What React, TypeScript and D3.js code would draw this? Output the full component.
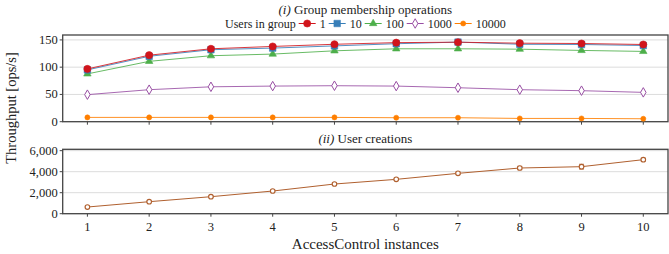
import React, { useEffect, useRef } from "react";
import * as d3 from "d3";

// x categories
const instances = [1, 2, 3, 4, 5, 6, 7, 8, 9, 10];

// (i) group membership throughput, one array per group size
const users1 = [96.8, 122, 133.7, 138, 142, 145, 145.8, 144, 143.4, 141.6];
const users10 = [95, 120, 132, 135, 139, 143, 146, 142, 141.6, 139.7];
const users100 = [87.7, 110.7, 121, 124, 130, 133.7, 133.7, 133, 130.7, 128.9];
const users1000 = [49.6, 58.7, 64, 65.3, 66, 65.3, 62.3, 58.7, 56.9, 53.8];
const users10000 = [7.9, 7.9, 7.9, 7.9, 7.9, 7.3, 7.3, 6, 6, 5.4];

// (ii) user creations
const creations = [635, 1143, 1619, 2159, 2825, 3270, 3841, 4349, 4476, 5143];
const creationErr = [60, 60, 70, 80, 100, 90, 110, 160, 230, 140];

const topTicks = [0, 50, 100, 150];
const bottomTicks = [0, 2000, 4000, 6000];

const FONT = "'Liberation Serif', serif";

const W = 669;
const H = 254;

export default function App() {
  const svgRef = useRef<SVGSVGElement>(null);

  useEffect(() => {
    if (!svgRef.current) return;
    document.body.style.margin = "0";

    const svg = d3.select(svgRef.current);
    svg.selectAll("*").remove();
    svg.attr("width", W).attr("height", H).style("display", "block");

    const left = 62.7;
    const right = 668;
    const mid = (left + right) / 2;

    const x = d3.scaleLinear().domain([0.6, 10.4]).range([left, right]);
    const yTop = d3.scaleLinear().domain([0, 159]).range([121.7, 35]);
    const yBot = d3.scaleLinear().domain([0, 6130]).range([213.7, 149.3]);

    // 系列の定義
    const series = [
      { key: "10000", data: users10000, color: "#ff7f00", symbol: d3.symbolCircle, size: 20, hollow: false },
      { key: "1000", data: users1000, color: "#984ea3", symbol: d3.symbolDiamond, size: 26, hollow: true },
      { key: "100", data: users100, color: "#4daf4a", symbol: d3.symbolTriangle, size: 24, hollow: false },
      { key: "10", data: users10, color: "#377eb8", symbol: d3.symbolSquare, size: 42, hollow: false },
      { key: "1", data: users1, color: "#d1151c", symbol: d3.symbolCircle, size: 40, hollow: false },
    ];

    const drawPanel = (
      y: d3.ScaleLinear<number, number>,
      ticks: number[],
      fmt: (v: number) => string
    ) => {
      const [y0, y1] = y.range();
      // grid
      svg
        .append("g")
        .selectAll("line")
        .data(ticks.filter((t) => t > 0))
        .enter()
        .append("line")
        .attr("x1", left)
        .attr("x2", right)
        .attr("y1", (d) => y(d))
        .attr("y2", (d) => y(d))
        .attr("stroke", "#dcdcdc")
        .attr("stroke-width", 1);

      // y ticks + labels
      const ya = svg.append("g");
      ya.selectAll("line")
        .data(ticks)
        .enter()
        .append("line")
        .attr("x1", left - 3)
        .attr("x2", left)
        .attr("y1", (d) => y(d))
        .attr("y2", (d) => y(d))
        .attr("stroke", "#444");
      ya.selectAll("text")
        .data(ticks)
        .enter()
        .append("text")
        .attr("x", left - 5)
        .attr("y", (d) => y(d) + 4)
        .attr("text-anchor", "end")
        .style("font-family", FONT)
        .style("font-size", "12.5px")
        .attr("fill", "#222")
        .text((d) => fmt(d));

      // x ticks
      svg
        .append("g")
        .selectAll("line")
        .data(instances)
        .enter()
        .append("line")
        .attr("x1", (d) => x(d))
        .attr("x2", (d) => x(d))
        .attr("y1", y0)
        .attr("y2", y0 + 3)
        .attr("stroke", "#444");

      // frame
      svg
        .append("rect")
        .attr("x", left)
        .attr("y", y1)
        .attr("width", right - left)
        .attr("height", y0 - y1)
        .attr("fill", "none")
        .attr("stroke", "#444")
        .attr("stroke-width", 1.3);
    };

    drawPanel(yTop, topTicks, (v) => String(v));
    drawPanel(yBot, bottomTicks, d3.format(","));

    // 上段のライン
    series.forEach((s) => {
      const line = d3
        .line<number>()
        .x((_, i) => x(instances[i]))
        .y((d) => yTop(d));
      svg
        .append("path")
        .datum(s.data)
        .attr("fill", "none")
        .attr("stroke", s.color)
        .attr("stroke-opacity", 0.85)
        .attr("stroke-width", 1)
        .attr("d", line);
      svg
        .append("g")
        .selectAll("path")
        .data(s.data)
        .enter()
        .append("path")
        .attr("transform", (d, i) => `translate(${x(instances[i])},${yTop(d)})`)
        .attr("d", d3.symbol().type(s.symbol).size(s.size)())
        .attr("fill", s.hollow ? "white" : s.color)
        .attr("stroke", s.color)
        .attr("stroke-width", s.hollow ? 1 : 0.6);
    });

    // 下段
    const brown = "#b0602f";
    const line2 = d3
      .line<number>()
      .x((_, i) => x(instances[i]))
      .y((d) => yBot(d));
    svg
      .append("path")
      .datum(creations)
      .attr("fill", "none")
      .attr("stroke", brown)
      .attr("stroke-width", 1)
      .attr("d", line2);
    const eb = svg.append("g").attr("stroke", brown).attr("stroke-width", 0.8);
    creations.forEach((v, i) => {
      const cx = x(instances[i]);
      const lo = yBot(v - creationErr[i]);
      const hi = yBot(v + creationErr[i]);
      eb.append("line").attr("x1", cx).attr("x2", cx).attr("y1", lo).attr("y2", hi);
      eb.append("line").attr("x1", cx - 2.5).attr("x2", cx + 2.5).attr("y1", lo).attr("y2", lo);
      eb.append("line").attr("x1", cx - 2.5).attr("x2", cx + 2.5).attr("y1", hi).attr("y2", hi);
    });
    svg
      .append("g")
      .selectAll("circle")
      .data(creations)
      .enter()
      .append("circle")
      .attr("cx", (_, i) => x(instances[i]))
      .attr("cy", (d) => yBot(d))
      .attr("r", 2.3)
      .attr("fill", "white")
      .attr("stroke", brown)
      .attr("stroke-width", 1.1);

    // X tick labels
    svg
      .append("g")
      .selectAll("text")
      .data(instances)
      .enter()
      .append("text")
      .attr("x", (d) => x(d))
      .attr("y", 231)
      .attr("text-anchor", "middle")
      .style("font-family", FONT)
      .style("font-size", "12.5px")
      .attr("fill", "#222")
      .text((d) => d);

    // Axis titles
    svg
      .append("text")
      .attr("x", mid)
      .attr("y", 249)
      .attr("text-anchor", "middle")
      .style("font-family", FONT)
      .style("font-size", "15px")
      .attr("fill", "#222")
      .text("AccessControl instances");

    svg
      .append("text")
      .attr("transform", `translate(16,108) rotate(-90)`)
      .attr("text-anchor", "middle")
      .style("font-family", FONT)
      .style("font-size", "14.5px")
      .attr("fill", "#222")
      .text("Throughput [ops/s]");

    // panel titles
    const title = (yPos: number, roman: string, label: string) => {
      const t = svg
        .append("text")
        .attr("x", mid)
        .attr("y", yPos)
        .attr("text-anchor", "middle")
        .style("font-family", FONT)
        .style("font-size", "13px")
        .attr("fill", "#222");
      t.append("tspan").style("font-style", "italic").text(roman);
      t.append("tspan").text(" " + label);
    };
    title(14, "(i)", "Group membership operations");
    title(143, "(ii)", "User creations");

    // 凡例: measure text then center
    const lg = svg.append("g");
    const lgY = 23.5;
    const fs = "12px";
    let cursor = 0;
    const head = lg
      .append("text")
      .attr("x", 0)
      .attr("y", lgY + 4)
      .style("font-family", FONT)
      .style("font-size", fs)
      .attr("fill", "#222")
      .text("Users in group");
    cursor = (head.node() as SVGTextElement).getComputedTextLength() + 3;
    const legendOrder = [...series].reverse();
    legendOrder.forEach((s) => {
      const lx = cursor;
      lg.append("line")
        .attr("x1", lx)
        .attr("x2", lx + 17)
        .attr("y1", lgY)
        .attr("y2", lgY)
        .attr("stroke", s.color)
        .attr("stroke-width", 1);
      lg.append("path")
        .attr("transform", `translate(${lx + 8.5},${lgY})`)
        .attr("d", d3.symbol().type(s.symbol).size(s.size)())
        .attr("fill", s.hollow ? "white" : s.color)
        .attr("stroke", s.color)
        .attr("stroke-width", s.hollow ? 1 : 0.6);
      const t = lg
        .append("text")
        .attr("x", lx + 21)
        .attr("y", lgY + 4)
        .style("font-family", FONT)
        .style("font-size", fs)
        .attr("fill", "#222")
        .text(s.key);
      cursor = lx + 21 + (t.node() as SVGTextElement).getComputedTextLength() + 3;
    });
    lg.attr("transform", `translate(${mid - (cursor - 3) / 2},0)`);
  }, []);

  return <svg ref={svgRef} />;
}
